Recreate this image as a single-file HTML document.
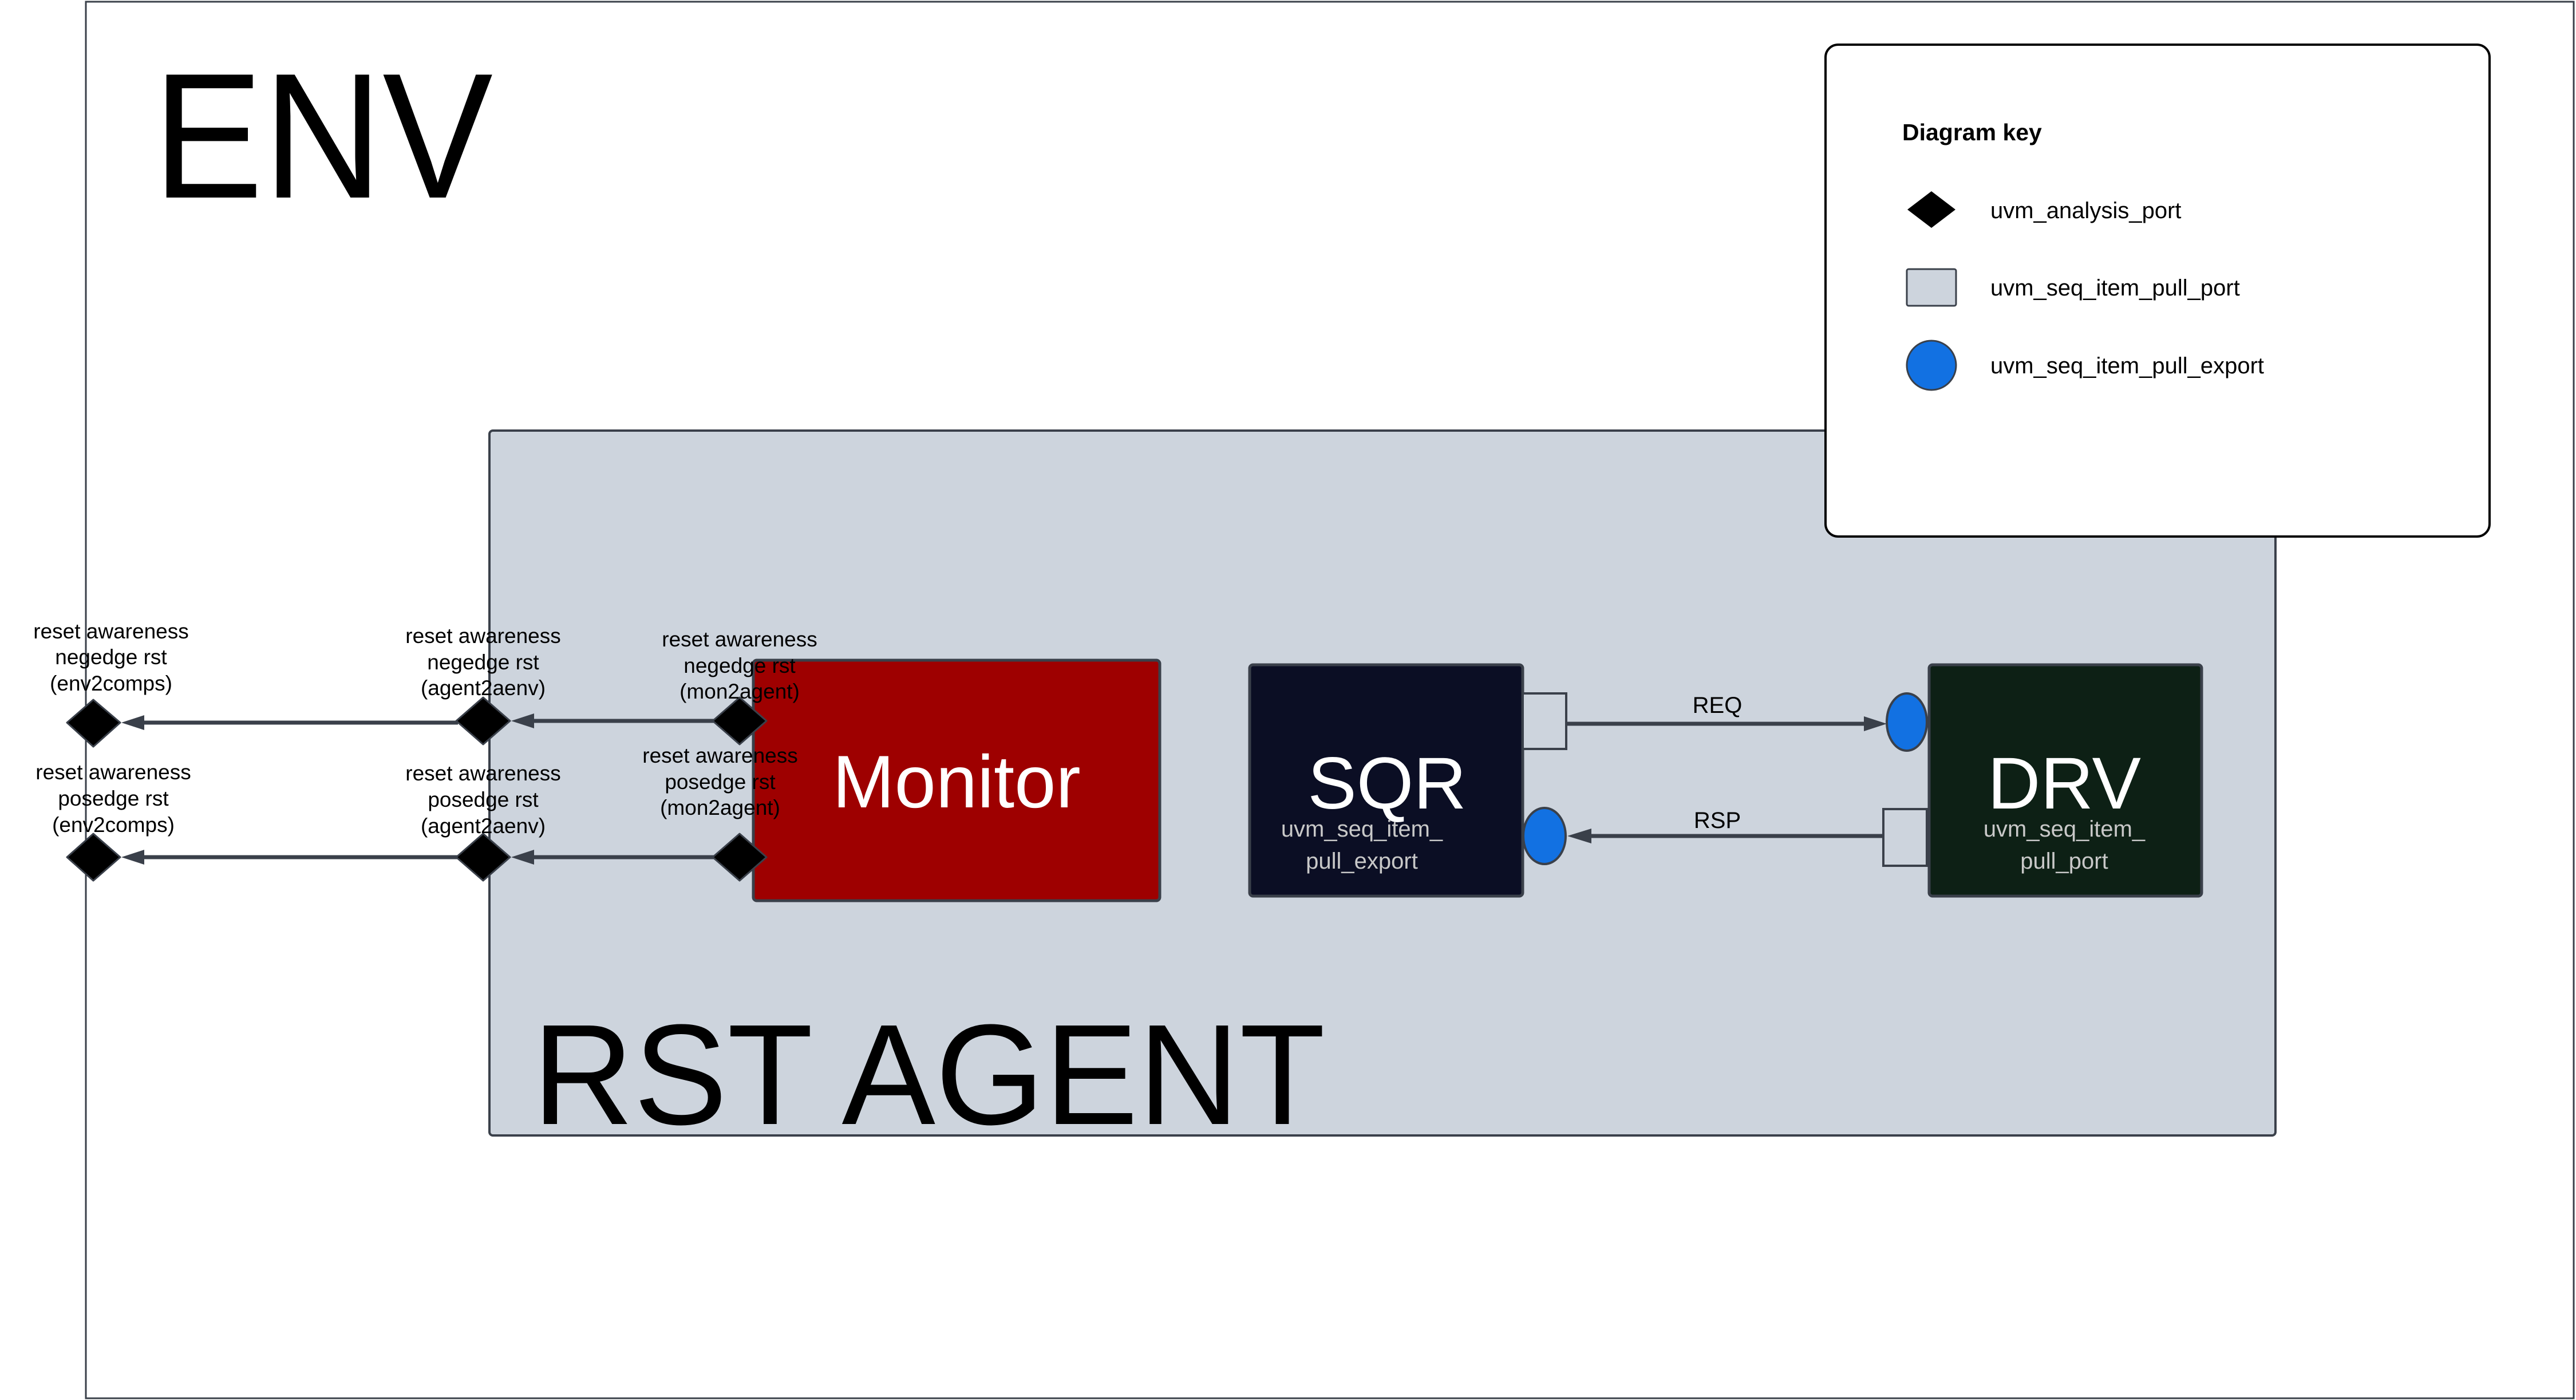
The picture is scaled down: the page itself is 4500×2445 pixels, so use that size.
<!DOCTYPE html>
<html><head><meta charset="utf-8"><style>
html,body{margin:0;padding:0;background:#fff;}
svg{display:block;}
text{font-family:"Liberation Sans",sans-serif;}
</style></head><body>
<svg width="4500" height="2445" viewBox="0 0 4500 2445" xmlns="http://www.w3.org/2000/svg">
<rect x="0" y="0" width="4500" height="2445" fill="#fff"/>
<!-- ENV -->
<rect x="150" y="3" width="4346" height="2439" fill="#fff" stroke="#3a404a" stroke-width="3"/>
<text x="267" y="345" font-size="312" fill="#000" textLength="594" lengthAdjust="spacingAndGlyphs">ENV</text>
<!-- RST AGENT -->
<rect x="855" y="752" width="3120" height="1231" rx="6" fill="#cdd4dd" stroke="#3a404a" stroke-width="4"/>
<text x="930" y="1963" font-size="250" fill="#000" textLength="1385" lengthAdjust="spacingAndGlyphs">RST AGENT</text>
<!-- Key -->
<rect x="3189" y="78" width="1160" height="859" rx="22" fill="#fff" stroke="#000" stroke-width="4"/>
<text x="3323" y="245" font-size="41" font-weight="bold" fill="#000">Diagram key</text>
<polygon points="3374,334 3416,366 3374,398 3332,366" fill="#000"/>
<text x="3477" y="381" font-size="40" fill="#000">uvm_analysis_port</text>
<rect x="3331" y="470" width="86" height="64" rx="3" fill="#cdd4dd" stroke="#3a404a" stroke-width="3"/>
<text x="3477" y="516" font-size="40" fill="#000">uvm_seq_item_pull_port</text>
<ellipse cx="3374" cy="638" rx="43" ry="43" fill="#1271e2" stroke="#3a404a" stroke-width="3"/>
<text x="3477" y="652" font-size="40" fill="#000">uvm_seq_item_pull_export</text>
<!-- Monitor -->
<rect x="1316" y="1153" width="710" height="420" rx="6" fill="#9e0000" stroke="#3a404a" stroke-width="5"/>
<text x="1671" y="1410" font-size="130" fill="#fff" text-anchor="middle">Monitor</text>
<!-- SQR -->
<rect x="2183" y="1161" width="477" height="404" rx="6" fill="#0b0e24" stroke="#3a404a" stroke-width="5"/>
<text x="2423" y="1412" font-size="128" fill="#fff" text-anchor="middle">SQR</text>
<text x="2379" y="1461" font-size="40" fill="#c8c8c8" text-anchor="middle">uvm_seq_item_</text>
<text x="2379" y="1517" font-size="40" fill="#c8c8c8" text-anchor="middle">pull_export</text>
<!-- DRV -->
<rect x="3370" y="1161" width="476" height="404" rx="6" fill="#0d2015" stroke="#3a404a" stroke-width="5"/>
<text x="3606" y="1412" font-size="128" fill="#fff" text-anchor="middle">DRV</text>
<text x="3606" y="1461" font-size="40" fill="#c8c8c8" text-anchor="middle">uvm_seq_item_</text>
<text x="3606" y="1517" font-size="40" fill="#c8c8c8" text-anchor="middle">pull_port</text>
<!-- REQ -->
<rect x="2660" y="1211" width="76" height="97" fill="#cdd4dd" stroke="#3a404a" stroke-width="4"/>
<line x1="2736" y1="1264" x2="3260" y2="1264" stroke="#3a404a" stroke-width="7"/>
<polygon points="3296,1264 3256,1251 3256,1277" fill="#3a404a"/>
<ellipse cx="3331" cy="1261" rx="35" ry="50" fill="#1271e2" stroke="#3a404a" stroke-width="4"/>
<text x="3000" y="1245" font-size="40" fill="#000" text-anchor="middle">REQ</text>
<!-- RSP -->
<rect x="3290" y="1413" width="76" height="99" fill="#cdd4dd" stroke="#3a404a" stroke-width="4"/>
<line x1="3290" y1="1460" x2="2775" y2="1460" stroke="#3a404a" stroke-width="7"/>
<polygon points="2738,1460 2780,1447 2780,1473" fill="#3a404a"/>
<ellipse cx="2698" cy="1460" rx="37" ry="49" fill="#1271e2" stroke="#3a404a" stroke-width="4"/>
<text x="3000" y="1446" font-size="40" fill="#000" text-anchor="middle">RSP</text>
<!-- analysis connectors -->
<g stroke="#3a404a" stroke-width="7">
<line x1="800" y1="1262" x2="250" y2="1262"/>
<line x1="1248" y1="1259" x2="930" y2="1259"/>
<line x1="800" y1="1497" x2="250" y2="1497"/>
<line x1="1248" y1="1497" x2="930" y2="1497"/>
</g>
<g fill="#3a404a">
<polygon points="212,1262 252,1249 252,1275"/>
<polygon points="893,1259 933,1246 933,1272"/>
<polygon points="212,1497 252,1484 252,1510"/>
<polygon points="893,1497 933,1484 933,1510"/>
</g>
<g fill="#000" stroke="#3a404a" stroke-width="3" stroke-linejoin="round">
<polygon points="163,1222 210,1262 163,1304 117,1262"/>
<polygon points="844,1218 891,1259 844,1300 797,1259"/>
<polygon points="1292,1218 1339,1259 1292,1300 1245,1259"/>
<polygon points="163,1456 210,1497 163,1538 117,1497"/>
<polygon points="844,1456 891,1497 844,1538 797,1497"/>
<polygon points="1292,1456 1339,1497 1292,1538 1245,1497"/>
</g>
<g font-size="37" fill="#000" text-anchor="middle">
<text x="194" y="1115">reset awareness</text><text x="194" y="1160">negedge rst</text><text x="194" y="1206">(env2comps)</text>
<text x="844" y="1123">reset awareness</text><text x="844" y="1169">negedge rst</text><text x="844" y="1214">(agent2aenv)</text>
<text x="1292" y="1129">reset awareness</text><text x="1292" y="1175">negedge rst</text><text x="1292" y="1220">(mon2agent)</text>
<text x="198" y="1361">reset awareness</text><text x="198" y="1407">posedge rst</text><text x="198" y="1453">(env2comps)</text>
<text x="844" y="1363">reset awareness</text><text x="844" y="1409">posedge rst</text><text x="844" y="1455">(agent2aenv)</text>
<text x="1258" y="1332">reset awareness</text><text x="1258" y="1378">posedge rst</text><text x="1258" y="1423">(mon2agent)</text>
</g>
</svg>
</body></html>
